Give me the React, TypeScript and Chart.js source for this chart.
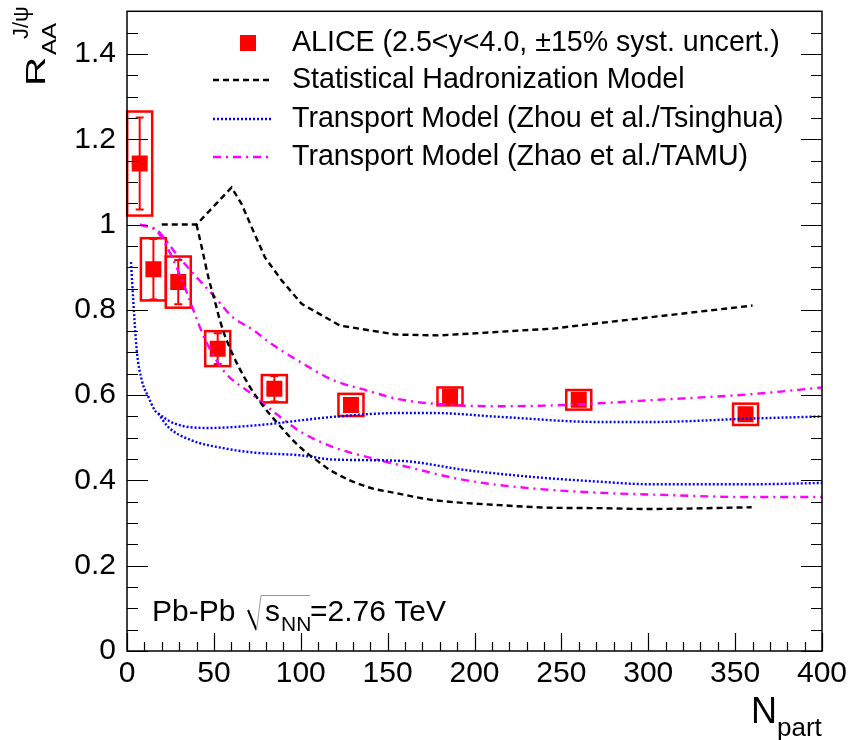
import React, { useEffect, useRef } from "react";
import { Chart, registerables } from "chart.js";

Chart.register(...registerables);

// ---------- DATA ----------
const aliceNpart = [7.3, 15.2, 29.5, 52.2, 84.8, 128.9, 185.9, 260, 356];
const aliceRaa = [1.143, 0.895, 0.865, 0.709, 0.615, 0.577, 0.597, 0.589, 0.555];
const aliceStat = [0.108, 0.071, 0.052, 0.036, 0.03, 0.016, 0.012, 0.01, 0.01];
const aliceSyst = [0.122, 0.073, 0.06, 0.041, 0.032, 0.026, 0.021, 0.023, 0.025];

const shmUpperX = [20, 40, 60.2, 66, 71.8, 79.4, 89, 100.5, 122.6, 155, 180, 245, 272, 360];
const shmUpperY = [1.0, 1.0, 1.087, 1.048, 0.993, 0.923, 0.869, 0.814, 0.763, 0.742, 0.74, 0.756, 0.769, 0.81];
const shmLowerX = [40, 43, 46.8, 50.6, 53.5, 57.4, 70.8, 91.9, 99.6, 109.2, 118.6, 138, 155, 176.3, 214.7, 243.5, 272, 299, 359.5];
const shmLowerY = [1.0, 0.947, 0.877, 0.82, 0.775, 0.728, 0.619, 0.51, 0.478, 0.447, 0.42, 0.385, 0.37, 0.354, 0.342, 0.336, 0.335, 0.333, 0.337];

const zhouUpperX = [2.3, 3.6, 5.6, 8.5, 12.3, 16.1, 18, 27.6, 46.8, 73.7, 118.7, 157, 176, 214.7, 272, 301, 358.6, 400];
const zhouUpperY = [0.912, 0.822, 0.705, 0.635, 0.596, 0.564, 0.557, 0.533, 0.523, 0.529, 0.549, 0.558, 0.558, 0.549, 0.537, 0.537, 0.545, 0.55];
const zhouLowerX = [18, 23.8, 37.2, 56.4, 73.7, 99.6, 118.7, 157, 195.5, 233.8, 272, 301, 358.6, 400];
const zhouLowerY = [0.557, 0.525, 0.494, 0.475, 0.465, 0.459, 0.449, 0.446, 0.424, 0.408, 0.397, 0.391, 0.391, 0.394];

const zhaoUpperX = [7.5, 17, 22, 27.6, 40, 50.6, 60.2, 73.7, 80.4, 99.6, 118.7, 138, 157, 185.9, 214.7, 246, 272, 301, 358.6, 400];
const zhaoUpperY = [1.0, 0.988, 0.965, 0.935, 0.877, 0.83, 0.785, 0.75, 0.728, 0.678, 0.635, 0.611, 0.59, 0.577, 0.574, 0.576, 0.581, 0.588, 0.602, 0.618];
const zhaoLowerX = [7.5, 17, 22, 28, 34, 40, 45, 56, 71, 84, 100, 118.7, 138, 157, 195.5, 233.8, 272, 301, 358.6, 400];
const zhaoLowerY = [1.0, 0.985, 0.955, 0.905, 0.845, 0.78, 0.73, 0.655, 0.605, 0.562, 0.514, 0.478, 0.455, 0.436, 0.4, 0.381, 0.371, 0.367, 0.361, 0.361];

const xTickValues = [0, 50, 100, 150, 200, 250, 300, 350, 400];
const xTickLabels = ["0", "50", "100", "150", "200", "250", "300", "350", "400"];
const yTickValues = [0, 0.2, 0.4, 0.6, 0.8, 1.0, 1.2, 1.4];
const yTickLabels = ["0", "0.2", "0.4", "0.6", "0.8", "1", "1.2", "1.4"];

const legendLabels = [
  "ALICE (2.5<y<4.0, \u00b115% syst. uncert.)",
  "Statistical Hadronization Model",
  "Transport Model (Zhou et al./Tsinghua)",
  "Transport Model (Zhao et al./TAMU)",
];

// ---------- STYLE ----------
const FONT = "'Liberation Sans', Arial, Helvetica, sans-serif";
const RED = "#ff0000";
const BLUE = "#0000ff";
const MAGENTA = "#ff00ff";
const DASH_SHM = [6, 4];
const DASH_ZHOU = [2, 2];
const DASH_ZHAO = [8, 5, 2, 5];
const LINE_W = 2.4;
const BOX_HALF_WIDTH = 7.2; // in Npart units

const toPts = (xs: number[], ys: number[]) => xs.map((x, i) => ({ x, y: ys[i] }));

const decorPlugin = {
  id: "rootDecor",
  beforeDatasetsDraw(chart: any) {
    const { ctx, scales } = chart;
    const xs = scales.x;
    const ys = scales.y;
    ctx.save();
    ctx.strokeStyle = RED;
    ctx.lineWidth = 2.5;
    aliceNpart.forEach((n, i) => {
      const x0 = xs.getPixelForValue(n - BOX_HALF_WIDTH);
      const x1 = xs.getPixelForValue(n + BOX_HALF_WIDTH);
      const y0 = ys.getPixelForValue(aliceRaa[i] + aliceSyst[i]);
      const y1 = ys.getPixelForValue(aliceRaa[i] - aliceSyst[i]);
      ctx.strokeRect(x0, y0, x1 - x0, y1 - y0);
    });
    ctx.lineWidth = 2;
    aliceNpart.forEach((n, i) => {
      const x = xs.getPixelForValue(n);
      const y0 = ys.getPixelForValue(aliceRaa[i] + aliceStat[i]);
      const y1 = ys.getPixelForValue(aliceRaa[i] - aliceStat[i]);
      ctx.beginPath();
      ctx.moveTo(x, y0);
      ctx.lineTo(x, y1);
      ctx.moveTo(x - 4, y0);
      ctx.lineTo(x + 4, y0);
      ctx.moveTo(x - 4, y1);
      ctx.lineTo(x + 4, y1);
      ctx.stroke();
    });
    ctx.restore();
  },
  afterDraw(chart: any) {
    const { ctx, chartArea, scales } = chart;
    const xs = scales.x;
    const ys = scales.y;
    const { left, right, top, bottom } = chartArea;
    ctx.save();
    // frame
    ctx.strokeStyle = "#000";
    ctx.lineWidth = 1.5;
    ctx.strokeRect(left, top, right - left, bottom - top);
    // ticks (inside, ROOT style)
    ctx.lineWidth = 1.2;
    ctx.beginPath();
    for (let k = 0; k <= 30; k++) {
      const v = k * 0.05;
      const y = Math.round(ys.getPixelForValue(v)) + 0.5;
      const len = k % 4 === 0 ? 21 : 11;
      ctx.moveTo(left, y);
      ctx.lineTo(left + len, y);
      ctx.moveTo(right, y);
      ctx.lineTo(right - len, y);
    }
    for (let k = 0; k <= 40; k++) {
      const v = k * 10;
      const x = Math.round(xs.getPixelForValue(v)) + 0.5;
      const len = k % 5 === 0 ? 18 : 9;
      ctx.moveTo(x, bottom);
      ctx.lineTo(x, bottom - len);
    }
    ctx.stroke();

    // legend
    const rows = [43, 80, 119, 157];
    const sx0 = 213;
    const sx1 = 273;
    ctx.fillStyle = RED;
    ctx.fillRect(240, rows[0] - 8, 16, 16);
    const styles = [
      { c: "#000", d: DASH_SHM },
      { c: BLUE, d: DASH_ZHOU },
      { c: MAGENTA, d: DASH_ZHAO },
    ];
    styles.forEach((s, i) => {
      ctx.strokeStyle = s.c;
      ctx.lineWidth = LINE_W;
      ctx.setLineDash(s.d);
      ctx.beginPath();
      ctx.moveTo(sx0, rows[i + 1]);
      ctx.lineTo(sx1, rows[i + 1]);
      ctx.stroke();
    });
    ctx.setLineDash([]);
    ctx.fillStyle = "#000";
    ctx.font = `28.6px ${FONT}`;
    ctx.textBaseline = "middle";
    ctx.textAlign = "left";
    legendLabels.forEach((t, i) => ctx.fillText(t, 292, rows[i]));

    // Pb-Pb sqrt(sNN) label
    ctx.textBaseline = "alphabetic";
    ctx.font = `30px ${FONT}`;
    ctx.fillText("Pb-Pb", 152, 621);
    ctx.strokeStyle = "#000";
    ctx.lineWidth = 2;
    ctx.beginPath();
    ctx.moveTo(248, 610);
    ctx.lineTo(256.5, 630);
    ctx.stroke();
    ctx.strokeStyle = "#999";
    ctx.lineWidth = 1;
    ctx.beginPath();
    ctx.moveTo(256.5, 630);
    ctx.lineTo(261, 595.5);
    ctx.lineTo(310, 595.5);
    ctx.stroke();
    ctx.fillText("s", 265, 621);
    ctx.font = `21px ${FONT}`;
    ctx.fillText("NN", 281, 631);
    ctx.font = `30px ${FONT}`;
    ctx.fillText("=2.76 TeV", 310, 621);

    // x title N_part
    ctx.font = `36px ${FONT}`;
    ctx.fillText("N", 751, 723);
    ctx.font = `26px ${FONT}`;
    ctx.fillText("part", 777, 736);

    // y title R_AA^{J/psi}, rotated
    ctx.save();
    ctx.translate(45, 86);
    ctx.rotate(-Math.PI / 2);
    ctx.save();
    ctx.scale(1.45, 1);
    ctx.font = `28px ${FONT}`;
    ctx.fillText("R", 0, 0);
    ctx.restore();
    ctx.save();
    ctx.translate(31, 11);
    ctx.scale(1.15, 1);
    ctx.font = `21px ${FONT}`;
    ctx.fillText("AA", 0, 0);
    ctx.restore();
    ctx.font = `22px ${FONT}`;
    ctx.fillText("J/\u03c8", 47, -17);
    ctx.restore();

    ctx.restore();
  },
};

export default function App() {
  const ref = useRef<HTMLCanvasElement>(null);
  useEffect(() => {
    document.body.style.margin = "0";
    const canvas = ref.current!;
    const lineDs = (xs: number[], ys: number[], color: string, dash: number[], smooth: boolean) => ({
      data: toPts(xs, ys),
      showLine: true,
      borderColor: color,
      backgroundColor: color,
      borderWidth: LINE_W,
      borderDash: dash,
      pointRadius: 0,
      fill: false,
      tension: 0,
      cubicInterpolationMode: smooth ? "monotone" : "default",
      order: 0,
    });
    const chart = new Chart(canvas, {
      type: "scatter",
      data: {
        datasets: [
          lineDs(shmUpperX, shmUpperY, "#000", DASH_SHM, false),
          lineDs(shmLowerX, shmLowerY, "#000", DASH_SHM, true),
          lineDs(zhouUpperX, zhouUpperY, BLUE, DASH_ZHOU, true),
          lineDs(zhouLowerX, zhouLowerY, BLUE, DASH_ZHOU, true),
          lineDs(zhaoUpperX, zhaoUpperY, MAGENTA, DASH_ZHAO, true),
          lineDs(zhaoLowerX, zhaoLowerY, MAGENTA, DASH_ZHAO, true),
          {
            data: toPts(aliceNpart, aliceRaa),
            showLine: false,
            pointStyle: "rect",
            pointRadius: 11.3,
            borderWidth: 0,
            backgroundColor: RED,
            borderColor: RED,
            order: 1,
          } as any,
        ] as any,
      },
      options: {
        animation: false,
        responsive: false,
        devicePixelRatio: 1,
        events: [],
        layout: { padding: { top: 10, right: 28, left: 0, bottom: 0 } },
        plugins: { legend: { display: false }, tooltip: { enabled: false }, title: { display: false } },
        scales: {
          x: {
            type: "linear",
            min: 0,
            max: 400,
            grid: { display: false, drawTicks: false },
            border: { display: false },
            afterBuildTicks: (s: any) => {
              s.ticks = xTickValues.map((v) => ({ value: v }));
            },
            afterFit: (s: any) => {
              s.height = 89;
              s.paddingLeft = 0;
              s.paddingRight = 0;
            },
            ticks: {
              color: "#000",
              font: { family: FONT, size: 30 },
              padding: 5,
              maxRotation: 0,
              autoSkip: false,
              callback: (v: any) => {
                const i = xTickValues.indexOf(Number(v));
                return i >= 0 ? xTickLabels[i] : "";
              },
            },
          },
          y: {
            type: "linear",
            min: 0,
            max: 1.5,
            grid: { display: false, drawTicks: false },
            border: { display: false },
            afterBuildTicks: (s: any) => {
              s.ticks = yTickValues.map((v) => ({ value: v }));
            },
            afterFit: (s: any) => {
              s.width = 127;
              s.paddingTop = 0;
              s.paddingBottom = 0;
            },
            ticks: {
              color: "#000",
              font: { family: FONT, size: 30 },
              padding: 11,
              autoSkip: false,
              callback: (v: any) => {
                const i = yTickValues.findIndex((t) => Math.abs(t - Number(v)) < 1e-6);
                return i >= 0 ? yTickLabels[i] : "";
              },
            },
          },
        },
      } as any,
      plugins: [decorPlugin as any],
    });
    return () => chart.destroy();
  }, []);
  return (
    <div style={{ width: 850, height: 740 }}>
      <canvas ref={ref} width={850} height={740} style={{ display: "block", width: 850, height: 740 }} />
    </div>
  );
}
